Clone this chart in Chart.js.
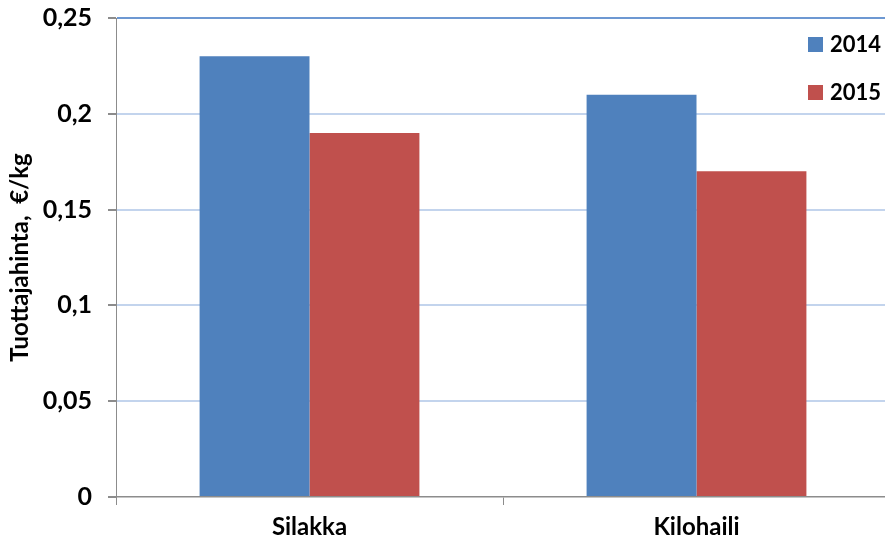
<!DOCTYPE html>
<html>
<head>
<meta charset="utf-8">
<script src="https://cdn.jsdelivr.net/npm/chart.js@4"></script>
<style>
html,body{margin:0;padding:0;background:#fff;overflow:hidden;width:885px;height:546px;}
canvas{display:block;}
</style>
</head>
<body>
<canvas id="c" width="890" height="546"></canvas>
<script>
const categories = ["Silakka", "Kilohaili"];
const series2014 = [0.23, 0.21];
const series2015 = [0.19, 0.17];
const seriesLabels = ["2014", "2015"];
const yTicks = [0, 0.05, 0.1, 0.15, 0.2, 0.25];
const yTitle = "Tuottajahinta,  €/kg";

const FONT = "Lato, 'Liberation Sans', sans-serif";

const legendPlugin = {
  id: 'customLegend',
  afterDraw(chart) {
    const ctx = chart.ctx;
    ctx.save();
    ctx.font = "bold 22px " + FONT;
    ctx.textBaseline = 'middle';
    ctx.textAlign = 'left';
    chart.data.datasets.forEach((ds, i) => {
      const y = 44 + i * 48;
      ctx.fillStyle = ds.backgroundColor;
      ctx.fillRect(808, y - 7, 15, 15);
      ctx.fillStyle = '#000';
      ctx.fillText(ds.label, 830, y + 1);
    });
    ctx.restore();
  }
};

new Chart(document.getElementById('c'), {
  type: 'bar',
  data: {
    labels: categories,
    datasets: [
      { label: seriesLabels[0], data: series2014, backgroundColor: '#4f81bd' },
      { label: seriesLabels[1], data: series2015, backgroundColor: '#c0504d' }
    ]
  },
  options: {
    responsive: false,
    animation: false,
    devicePixelRatio: 1,
    layout: { padding: { left: 0, right: 0, top: 18, bottom: 0 } },
    plugins: { legend: { display: false }, tooltip: { enabled: false } },
    datasets: { bar: { categoryPercentage: 0.568, barPercentage: 1.0 } },
    scales: {
      x: {
        grid: { offset: true, drawOnChartArea: false, tickLength: 8, tickColor: '#8c8c8c' },
        border: { color: '#8c8c8c', width: 1.5, z: 1 },
        ticks: { color: '#000', font: { family: FONT, size: 24, weight: 'bold' }, padding: 8 },
        afterFit(s) { s.height = 49; s.paddingLeft = 0; s.paddingRight = 0; }
      },
      y: {
        min: 0, max: 0.25,
        afterBuildTicks(s) { s.ticks = yTicks.map(v => ({ value: v })); },
        grid: {
          color: (c) => {
            if (!c.tick) return '#c3d4ed';
            if (c.tick.value === 0.25) return '#6d98d2';
            if (c.tick.value === 0) return 'rgba(0,0,0,0)';
            return '#c3d4ed';
          },
          lineWidth: 2,
          tickLength: 8, tickColor: '#8c8c8c'
        },
        border: { color: '#8c8c8c', width: 1 },
        ticks: {
          color: '#000', font: { family: FONT, size: 25, weight: 'bold' }, padding: 16,
          callback: (v) => String(Math.round(v * 100) / 100).replace('.', ',')
        },
        title: {
          display: true, text: yTitle, color: '#000',
          font: { family: FONT, size: 24, weight: 'bold' },
          padding: { top: 6, bottom: 0 }
        },
        afterFit(s) { s.width = 116; s.paddingTop = 0; s.paddingBottom = 0; }
      }
    }
  },
  plugins: [legendPlugin]
});
</script>
</body>
</html>
